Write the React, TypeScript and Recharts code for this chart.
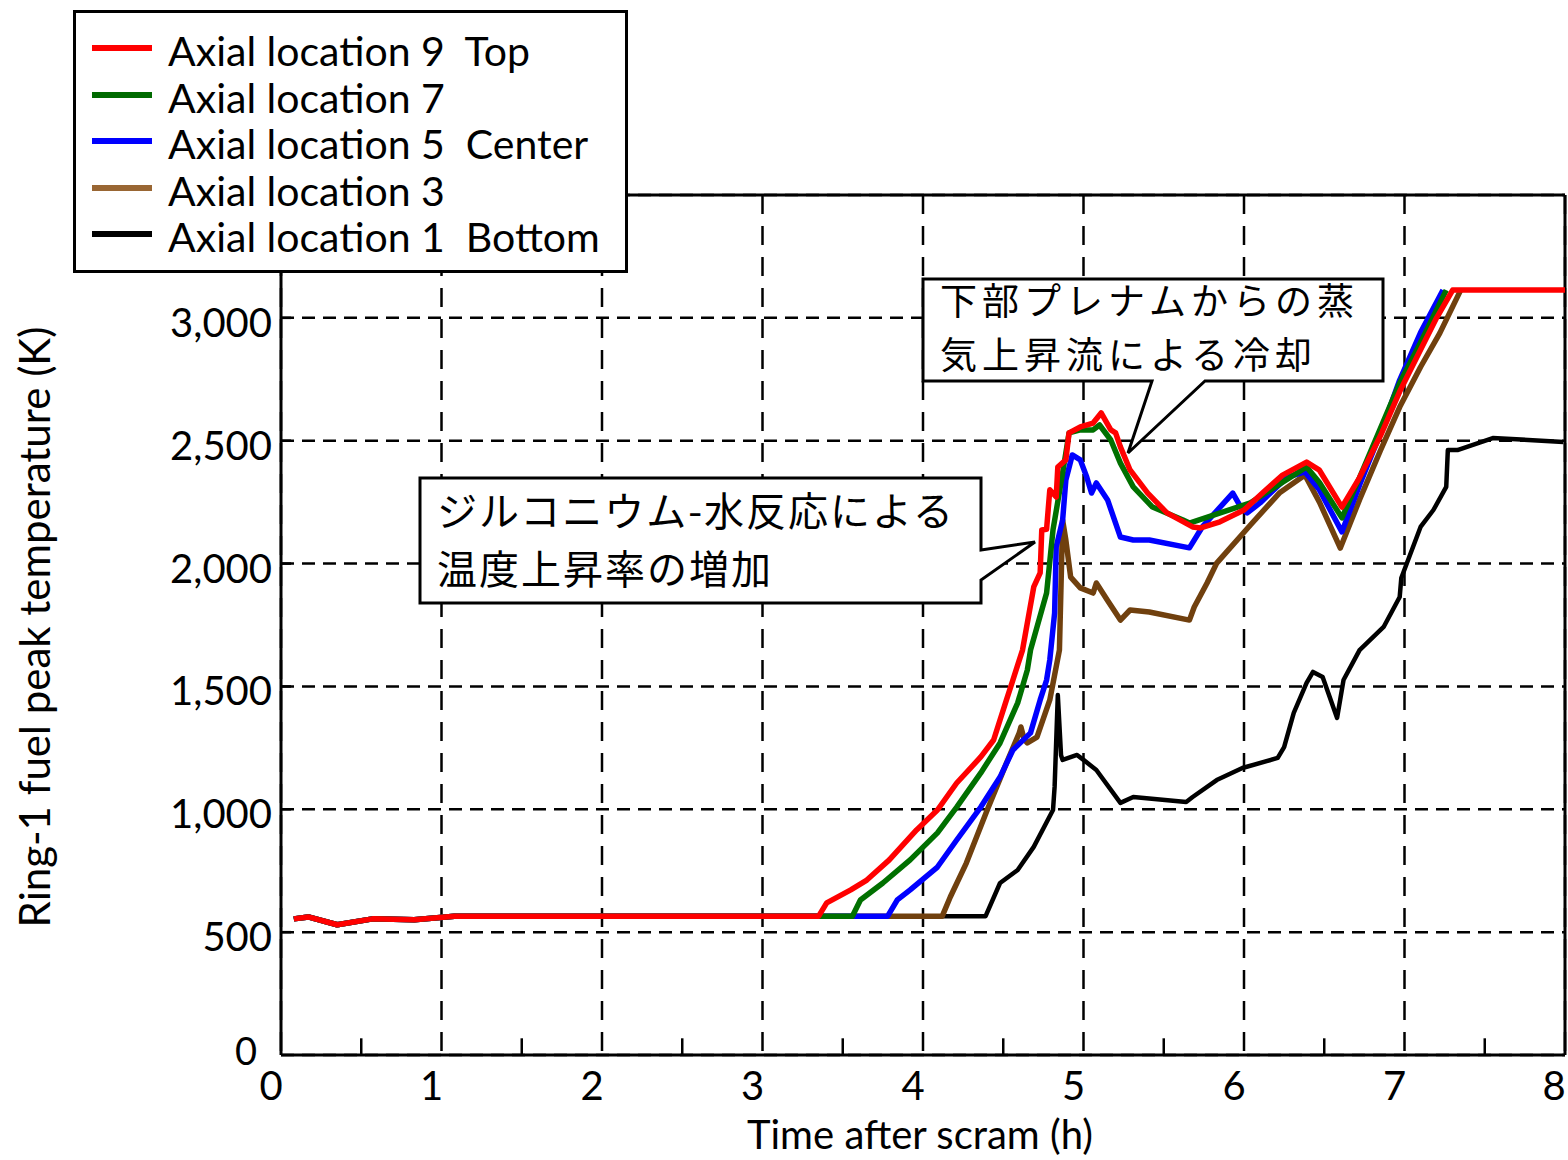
import React from 'react';
import { LineChart, Line, XAxis, YAxis, CartesianGrid, ReferenceLine, Legend } from 'recharts';

document.body.style.margin = '0';

type Pt = [number, number];

// [hours after scram, fuel peak temperature K]
const loc9: Pt[] = [
  [0.08, 554], [0.17, 562], [0.35, 530], [0.57, 554], [0.83, 550], [1.08, 565], [2.0, 565], [3.0, 565],
  [3.35, 565], [3.4, 619], [3.55, 672], [3.65, 712], [3.79, 794], [3.96, 916], [4.09, 997], [4.21, 1107],
  [4.36, 1213], [4.44, 1282], [4.52, 1445], [4.56, 1526], [4.62, 1648], [4.69, 1905], [4.73, 1962],
  [4.74, 2137], [4.77, 2140], [4.79, 2300], [4.83, 2271], [4.84, 2393], [4.89, 2422], [4.91, 2532],
  [4.98, 2556], [5.06, 2572], [5.11, 2613], [5.17, 2544], [5.2, 2532], [5.23, 2475], [5.29, 2381],
  [5.4, 2287], [5.52, 2206], [5.68, 2149], [5.73, 2145], [5.85, 2170], [6.0, 2218], [6.12, 2290],
  [6.24, 2360], [6.39, 2413], [6.47, 2380], [6.61, 2230], [6.72, 2350], [6.85, 2520], [6.97, 2700],
  [7.1, 2870], [7.2, 3000], [7.3, 3113], [8.0, 3113],
];

const loc7: Pt[] = [
  [0.08, 554], [0.17, 562], [0.35, 530], [0.57, 554], [0.83, 550], [1.08, 565], [2.0, 565], [3.0, 565],
  [3.56, 565], [3.61, 631], [3.75, 700], [3.92, 794], [4.09, 904], [4.21, 1009], [4.36, 1148],
  [4.48, 1270], [4.59, 1433], [4.65, 1567], [4.67, 1648], [4.77, 1880], [4.81, 2137], [4.87, 2369],
  [4.91, 2532], [4.98, 2544], [5.06, 2544], [5.1, 2564], [5.17, 2503], [5.23, 2409], [5.31, 2312],
  [5.43, 2230], [5.62, 2177], [5.66, 2165], [6.04, 2247], [6.29, 2352], [6.39, 2393], [6.47, 2330],
  [6.61, 2186], [6.72, 2350], [6.85, 2550], [6.97, 2735], [7.1, 2900], [7.26, 3113],
];

const loc5: Pt[] = [
  [0.08, 554], [0.17, 562], [0.35, 530], [0.57, 554], [0.83, 550], [1.08, 565], [2.0, 565], [3.0, 565],
  [3.78, 565], [3.84, 631], [3.92, 672], [4.09, 765], [4.21, 875], [4.36, 1009], [4.48, 1131],
  [4.56, 1241], [4.67, 1311], [4.73, 1445], [4.77, 1526], [4.79, 1608], [4.82, 1799], [4.83, 2068],
  [4.87, 2177], [4.89, 2340], [4.93, 2442], [4.98, 2422], [5.02, 2352], [5.05, 2287], [5.08, 2328],
  [5.15, 2259], [5.23, 2108], [5.31, 2096], [5.41, 2096], [5.66, 2064], [5.74, 2149], [5.93, 2287],
  [5.98, 2230], [6.02, 2206], [6.1, 2247], [6.27, 2352], [6.38, 2373], [6.47, 2300], [6.61, 2129],
  [6.72, 2320], [6.85, 2530], [6.97, 2747], [7.1, 2940], [7.24, 3113],
];

const loc3: Pt[] = [
  [0.08, 554], [0.17, 562], [0.35, 530], [0.57, 554], [0.83, 550], [1.08, 565], [2.0, 565], [3.0, 565],
  [4.12, 565], [4.17, 643], [4.27, 781], [4.4, 997], [4.52, 1188], [4.6, 1311], [4.61, 1335],
  [4.63, 1285], [4.65, 1270], [4.71, 1294], [4.79, 1445], [4.85, 1648], [4.87, 2177], [4.89, 2096],
  [4.92, 1945], [4.98, 1901], [5.06, 1880], [5.08, 1921], [5.15, 1850], [5.23, 1770], [5.29, 1811],
  [5.41, 1803], [5.66, 1770], [5.69, 1823], [5.77, 1921], [5.83, 2002], [6.04, 2157], [6.22, 2287],
  [6.38, 2360], [6.47, 2250], [6.6, 2063], [6.72, 2260], [6.85, 2460], [6.97, 2637], [7.1, 2800],
  [7.22, 2938], [7.35, 3113],
];

const loc1: Pt[] = [
  [0.08, 554], [0.17, 562], [0.35, 530], [0.57, 554], [0.83, 550], [1.08, 565], [2.0, 565], [3.0, 565],
  [4.39, 565], [4.48, 700], [4.59, 753], [4.69, 847], [4.81, 997], [4.82, 1091], [4.84, 1465],
  [4.86, 1220], [4.87, 1201], [4.96, 1221], [5.0, 1201], [5.08, 1160], [5.23, 1026], [5.31, 1050],
  [5.64, 1030], [5.68, 1050], [5.83, 1119], [5.99, 1168], [6.21, 1209], [6.25, 1253], [6.31, 1392],
  [6.39, 1514], [6.43, 1559], [6.49, 1538], [6.58, 1372], [6.62, 1526], [6.72, 1648], [6.87, 1742],
  [6.97, 1864], [6.98, 1941], [7.1, 2149], [7.18, 2218], [7.26, 2312], [7.27, 2462], [7.33, 2462],
  [7.55, 2511], [7.99, 2495],
];

const hourTicks = [0, 1, 2, 3, 4, 5, 6, 7, 8];
const halfHourTicks = [0.5, 1.5, 2.5, 3.5, 4.5, 5.5, 6.5, 7.5];
const tempTicks = [0, 500, 1000, 1500, 2000, 2500, 3000];

const FONT = 'Lato, "Noto Sans", sans-serif';
const JP_FONT = '"Noto Sans CJK JP", sans-serif';

// drawn bottom first so the red top location ends up on top
const series = [
  { key: 'loc1', name: 'Axial location 1  Bottom', points: loc1, color: '#000000', swatch: '#000000', width: 4.5 },
  { key: 'loc3', name: 'Axial location 3', points: loc3, color: '#70400e', swatch: '#996633', width: 5.5 },
  { key: 'loc5', name: 'Axial location 5  Center', points: loc5, color: '#0000ff', swatch: '#0000ff', width: 5.5 },
  { key: 'loc7', name: 'Axial location 7', points: loc7, color: '#007000', swatch: '#006a00', width: 5.5 },
  { key: 'loc9', name: 'Axial location 9  Top', points: loc9, color: '#ff0000', swatch: '#ff0000', width: 5.5 },
];
const legendOrder = ['loc9', 'loc7', 'loc5', 'loc3', 'loc1'];

const toRows = (pts: Pt[]) => pts.map(([t, temp]) => ({ t, temp }));

const HourTick = ({ x, y, payload }: any) => (
  <text x={x - 10} y={y + 45} textAnchor="middle" fontFamily={FONT} fontSize={40} fill="#000">
    {payload.value}
  </text>
);

const TempTick = ({ x, y, payload }: any) => (
  <g>
    {payload.value > 0 && <line x1={x} x2={x + 10} y1={y} y2={y} stroke="#000" strokeWidth={2.5} />}
    <text
      x={payload.value === 0 ? x - 24 : x - 9}
      y={payload.value === 0 ? y + 10 : y + 19}
      textAnchor="end"
      fontFamily={FONT}
      fontSize={payload.value === 0 ? 38 : 40}
      fill="#000"
    >
      {payload.value.toLocaleString('en-US')}
    </text>
  </g>
);

const hLine = (p: any) => (
  <line key={p.key} x1={p.x1} y1={p.y1} x2={p.x2} y2={p.y2} stroke="#000" strokeWidth={2.5} strokeDasharray="13 8" />
);
const vLine = (p: any) => (
  <line key={p.key} x1={p.x1} y1={p.y1} x2={p.x2} y2={p.y2} stroke="#000" strokeWidth={2.5} strokeDasharray="19 12" />
);

const LegendBox = () => (
  <div
    style={{
      position: 'relative', width: 555, height: 263, boxSizing: 'border-box',
      border: '3px solid #000', background: '#fff', fontFamily: FONT, fontSize: 41, color: '#000',
    }}
  >
    {legendOrder.map((k, i) => {
      const s = series.find((d) => d.key === k)!;
      const cy = 35 + i * 46.5;
      return (
        <React.Fragment key={k}>
          <div style={{ position: 'absolute', left: 16, top: cy - 3, width: 60, height: 6, background: s.swatch }} />
          <div style={{ position: 'absolute', left: 92, top: cy - 21, lineHeight: '48px', whiteSpace: 'pre' }}>{s.name}</div>
        </React.Fragment>
      );
    })}
  </div>
);

const jpText = { fontFamily: JP_FONT, fontSize: 40, letterSpacing: 2, fill: '#000' };
const jpTextTight = { fontFamily: JP_FONT, fontSize: 37, letterSpacing: 5, fill: '#000' };

export default function App() {
  return (
    <div style={{ position: 'relative', width: 1568, height: 1160, background: '#fff' }}>
      <LineChart width={1568} height={1160} margin={{ top: 195, right: 3, bottom: 0, left: 0 }}>
        <CartesianGrid horizontal={hLine} vertical={vLine} />
        <XAxis
          dataKey="t"
          type="number"
          domain={[0, 8]}
          ticks={hourTicks}
          tick={<HourTick />}
          tickSize={0}
          tickMargin={0}
          tickLine={false}
          axisLine={{ stroke: '#000', strokeWidth: 3 }}
          height={105}
          allowDataOverflow
          allowDuplicatedCategory={false}
          label={{
            content: ({ viewBox }: any) => (
              <text x={viewBox.x + viewBox.width / 2 - 3} y={viewBox.y + 94} textAnchor="middle" fontFamily={FONT} fontSize={40} fill="#000">
                Time after scram (h)
              </text>
            ),
          }}
        />
        <YAxis
          type="number"
          domain={[0, 3500]}
          ticks={tempTicks}
          tick={<TempTick />}
          tickSize={0}
          tickMargin={0}
          tickLine={false}
          axisLine={{ stroke: '#000', strokeWidth: 3 }}
          width={281}
          allowDataOverflow
          label={{
            content: ({ viewBox }: any) => {
              const cx = viewBox.x + 34;
              const cy = viewBox.y + viewBox.height / 2 + 2;
              return (
                <text x={cx} y={cy} transform={`rotate(-90 ${cx} ${cy})`} textAnchor="middle" dominantBaseline="central" fontFamily={FONT} fontSize={42} fill="#000">
                  Ring-1 fuel peak temperature (K)
                </text>
              );
            },
          }}
        />
        <ReferenceLine x={8} stroke="#000" strokeWidth={3} />
        <ReferenceLine y={3500} stroke="#000" strokeWidth={3} />
        {halfHourTicks.map((h) => (
          <ReferenceLine key={h} segment={[{ x: h, y: 0 }, { x: h, y: 68 }]} stroke="#000" strokeWidth={2.5} />
        ))}
        {series.map((s) => (
          <Line
            key={s.key}
            data={toRows(s.points)}
            dataKey="temp"
            name={s.name}
            type="linear"
            stroke={s.color}
            strokeWidth={s.width}
            strokeLinejoin="round"
            dot={false}
            isAnimationActive={false}
          />
        ))}
        <Legend
          layout="vertical"
          align="center"
          verticalAlign="middle"
          content={() => <LegendBox />}
          wrapperStyle={{ top: 10, left: 73, width: 555, height: 263 }}
        />
      </LineChart>
      <svg width={1568} height={1160} style={{ position: 'absolute', left: 0, top: 0, pointerEvents: 'none' }}>
        <path d="M420,478 H981 V550 L1035,542 L981,580 V603 H420 Z" fill="#fff" stroke="#000" strokeWidth={3} strokeLinejoin="miter" />
        <text {...jpText}>
          <tspan x={437} y={526}>ジルコニウム-水反応による</tspan>
          <tspan x={437} y={584}>温度上昇率の増加</tspan>
        </text>
        <path d="M923,279 H1383 V381 H1205 L1128,453 L1152,381 H923 Z" fill="#fff" stroke="#000" strokeWidth={3} strokeLinejoin="miter" />
        <text {...jpTextTight}>
          <tspan x={940} y={315}>下部プレナムからの蒸</tspan>
          <tspan x={940} y={369}>気上昇流による冷却</tspan>
        </text>
      </svg>
    </div>
  );
}
